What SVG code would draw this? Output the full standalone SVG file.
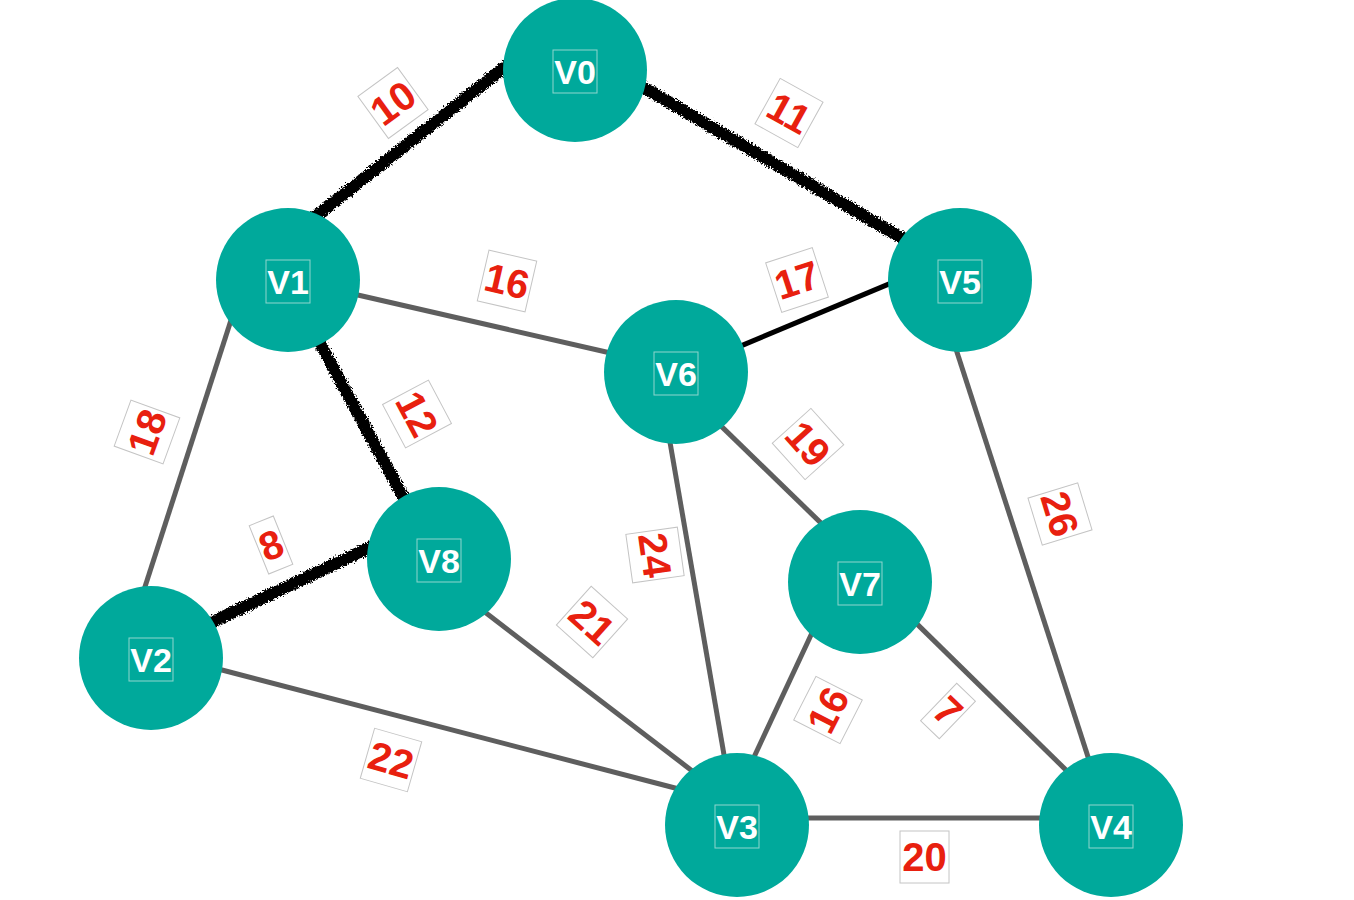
<svg xmlns="http://www.w3.org/2000/svg" width="1354" height="900" viewBox="0 0 1354 900">
<style>
.node circle{fill:#00a99b;}
.node rect{fill:none;stroke:#8fd6ce;stroke-width:1;}
.node text{font-family:"Liberation Sans",Arial,sans-serif;font-weight:bold;font-size:34px;fill:#ffffff;text-anchor:middle;}
.e{stroke:#5e5e5e;stroke-width:5;fill:none;}
.eb{stroke:#000;stroke-width:5;fill:none;}
.er{stroke:#000;stroke-width:12;fill:none;filter:url(#rough);}
.lbl rect{fill:#ffffff;stroke:#c4c4c4;stroke-width:1;}
.lbl text{font-family:"Liberation Sans",Arial,sans-serif;font-weight:bold;font-size:40px;fill:#e8200f;text-anchor:middle;}
</style>
<defs>
<filter id="rough" filterUnits="userSpaceOnUse" x="0" y="0" width="1354" height="900">
<feTurbulence type="fractalNoise" baseFrequency="0.6" numOctaves="2" seed="3" result="n"/>
<feDisplacementMap in="SourceGraphic" in2="n" scale="7" xChannelSelector="R" yChannelSelector="G"/>
</filter>
</defs>
<rect width="1354" height="900" fill="#ffffff"/>
<g id="connectors">
<line class="er" x1="310" y1="221" x2="511" y2="62"/>
<line class="er" x1="636" y1="83" x2="914" y2="245"/>
<line class="er" x1="316" y1="336" x2="406" y2="502"/>
<line class="er" x1="206" y1="625" x2="375" y2="545"/>
<line class="e" x1="350.2" y1="293.2" x2="613.8" y2="353.8"/>
<line class="eb" x1="735.6" y1="348.1" x2="896.4" y2="280.9"/>
<line class="e" x1="232.5" y1="315.4" x2="142.5" y2="594.6"/>
<line class="e" x1="214.3" y1="668" x2="682.7" y2="790"/>
<line class="e" x1="479.6" y1="608.1" x2="697.4" y2="774.9"/>
<line class="e" x1="668.6" y1="434.1" x2="725.4" y2="762.9"/>
<line class="e" x1="717.3" y1="422.4" x2="825.7" y2="527.6"/>
<line class="e" x1="814.4" y1="627.8" x2="751.6" y2="762.2"/>
<line class="e" x1="912.3" y1="619.4" x2="1071.7" y2="775.6"/>
<line class="e" x1="954.5" y1="344.4" x2="1090.5" y2="764.6"/>
<line class="e" x1="800" y1="818" x2="1048" y2="818"/>
<g class="lbl" transform="translate(393,103) rotate(-36)"><rect x="-24.5" y="-26" width="49" height="52"/><text y="14">10</text></g>
<g class="lbl" transform="translate(789,113) rotate(29)"><rect x="-24.5" y="-26" width="49" height="52"/><text y="14">11</text></g>
<g class="lbl" transform="translate(507,281) rotate(13)"><rect x="-24.5" y="-26" width="49" height="52"/><text y="14">16</text></g>
<g class="lbl" transform="translate(797,280) rotate(-18)"><rect x="-24.5" y="-26" width="49" height="52"/><text y="14">17</text></g>
<g class="lbl" transform="translate(417,414) rotate(62)"><rect x="-24.5" y="-26" width="49" height="52"/><text y="14">12</text></g>
<g class="lbl" transform="translate(147,432) rotate(-70)"><rect x="-24.5" y="-26" width="49" height="52"/><text y="14">18</text></g>
<g class="lbl" transform="translate(271,545) rotate(-22)"><rect x="-13" y="-26" width="26" height="52"/><text y="14">8</text></g>
<g class="lbl" transform="translate(391,760) rotate(16)"><rect x="-24.5" y="-26" width="49" height="52"/><text y="14">22</text></g>
<g class="lbl" transform="translate(592,622) rotate(42)"><rect x="-24.5" y="-26" width="49" height="52"/><text y="14">21</text></g>
<g class="lbl" transform="translate(655,555) rotate(82)"><rect x="-24.5" y="-26" width="49" height="52"/><text y="14">24</text></g>
<g class="lbl" transform="translate(808,444) rotate(48)"><rect x="-24.5" y="-26" width="49" height="52"/><text y="14">19</text></g>
<g class="lbl" transform="translate(828,710) rotate(-63)"><rect x="-24.5" y="-26" width="49" height="52"/><text y="14">16</text></g>
<g class="lbl" transform="translate(948,711) rotate(44)"><rect x="-13" y="-26" width="26" height="52"/><text y="14">7</text></g>
<g class="lbl" transform="translate(1060,514) rotate(73)"><rect x="-24.5" y="-26" width="49" height="52"/><text y="14">26</text></g>
<g class="lbl" transform="translate(924.5,857)"><rect x="-24.5" y="-26" width="49" height="52"/><text y="14">20</text></g>
</g>
<g id="V0" class="node"><circle cx="575" cy="70" r="72"/><rect x="553" y="50" width="44" height="43"/><text x="575" y="84">V0</text></g>
<g id="V1" class="node"><circle cx="288" cy="280" r="72"/><rect x="266" y="260" width="44" height="43"/><text x="288" y="294">V1</text></g>
<g id="V5" class="node"><circle cx="960" cy="280" r="72"/><rect x="938" y="260" width="44" height="43"/><text x="960" y="294">V5</text></g>
<g id="V6" class="node"><circle cx="676" cy="372" r="72"/><rect x="654" y="352" width="44" height="43"/><text x="676" y="386">V6</text></g>
<g id="V8" class="node"><circle cx="439" cy="559" r="72"/><rect x="417" y="539" width="44" height="43"/><text x="439" y="573">V8</text></g>
<g id="V2" class="node"><circle cx="151" cy="658" r="72"/><rect x="129" y="638" width="44" height="43"/><text x="151" y="672">V2</text></g>
<g id="V7" class="node"><circle cx="860" cy="582" r="72"/><rect x="838" y="562" width="44" height="43"/><text x="860" y="596">V7</text></g>
<g id="V3" class="node"><circle cx="737" cy="825" r="72"/><rect x="715" y="805" width="44" height="43"/><text x="737" y="839">V3</text></g>
<g id="V4" class="node"><circle cx="1111" cy="825" r="72"/><rect x="1089" y="805" width="44" height="43"/><text x="1111" y="839">V4</text></g>
</svg>
